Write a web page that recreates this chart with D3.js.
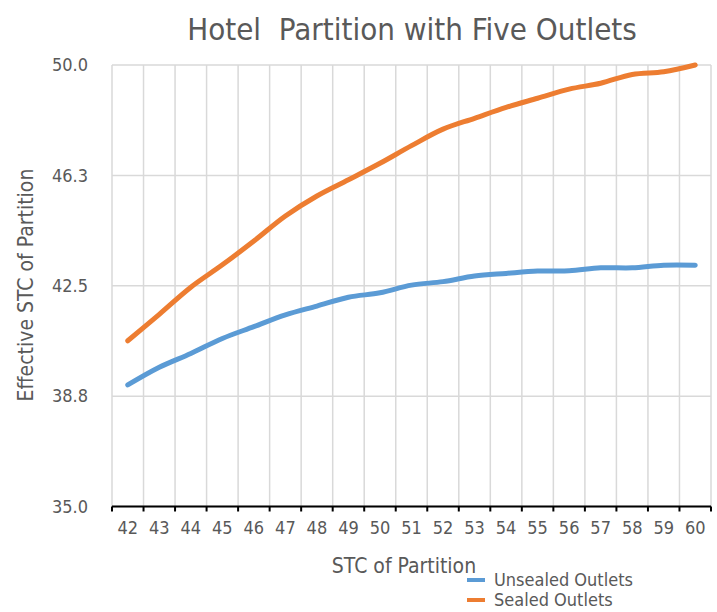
<!DOCTYPE html>
<html>
<head>
<meta charset="utf-8">
<script src="https://cdn.jsdelivr.net/npm/d3@7"></script>
<style>
  body { margin: 0; background: #fff; }
  text { font-family: "DejaVu Sans Condensed", "DejaVu Sans", sans-serif; fill: #595959; }
</style>
</head>
<body>
<svg id="chart" width="717" height="612"></svg>
<script>
// Chart data
const stcValues = ['42', '43', '44', '45', '46', '47', '48', '49', '50', '51', '52', '53', '54', '55', '56', '57', '58', '59', '60'];
const unsealed = [39.13, 39.73, 40.2, 40.71, 41.11, 41.51, 41.81, 42.11, 42.26, 42.52, 42.64, 42.83, 42.92, 43.0, 43.01, 43.11, 43.11, 43.2, 43.2];
const sealed = [40.63, 41.53, 42.45, 43.21, 44.02, 44.87, 45.55, 46.1, 46.66, 47.26, 47.82, 48.19, 48.56, 48.87, 49.18, 49.38, 49.68, 49.77, 50.0];
const yTicks = [35, 38.75, 42.5, 46.25, 50];
const seriesNames = ['Unsealed Outlets', 'Sealed Outlets'];
const seriesColors = ['#5B9BD5', '#ED7D31'];

const svg = d3.select('#chart');

// Draw area values
const plotLeft = 112;
const plotRight = 711;
const plotTop = 65;
const plotBottom = 506.5;

const x = d3.scaleBand().domain(stcValues).range([plotLeft, plotRight]);
const y = d3.scaleLinear().domain([35, 50]).range([plotBottom, plotTop]);

// Title
svg.append('text')
  .attr('x', 412)
  .attr('y', 40)
  .attr('text-anchor', 'middle')
  .style('font-size', '31px')
  .style('white-space', 'pre')
  .text('Hotel  Partition with Five Outlets');

// Horizontal grid
svg.append('g')
  .selectAll('line')
  .data(yTicks)
  .enter()
  .append('line')
  .attr('x1', plotLeft)
  .attr('x2', plotRight)
  .attr('y1', (d) => y(d))
  .attr('y2', (d) => y(d))
  .attr('stroke', '#d9d9d9')
  .attr('stroke-width', 1.5);

// Vertical grid at category boundaries
const edges = stcValues.map((d) => x(d)).concat([x(stcValues[stcValues.length - 1]) + x.bandwidth()]);
svg.append('g')
  .selectAll('line')
  .data(edges)
  .enter()
  .append('line')
  .attr('x1', (d) => d)
  .attr('x2', (d) => d)
  .attr('y1', plotTop)
  .attr('y2', plotBottom)
  .attr('stroke', '#d9d9d9')
  .attr('stroke-width', 1.5);

// Y axis labels
const yAxis = svg.append('g')
  .attr('transform', `translate(${plotLeft - 8},0)`)
  .call(d3.axisLeft(y).tickValues(yTicks).tickFormat(d3.format('.1f')).tickSize(0));
yAxis.select('.domain').remove();
yAxis.selectAll('text')
  .attr('x', -16)
  .style('font-size', '18px')
  .style('fill', '#595959')
  .style('font-family', '"DejaVu Sans Condensed", "DejaVu Sans", sans-serif');

// X axis line + ticks
svg.append('line')
  .attr('x1', plotLeft)
  .attr('x2', plotRight)
  .attr('y1', plotBottom)
  .attr('y2', plotBottom)
  .attr('stroke', '#000')
  .attr('stroke-width', 2);
svg.append('g')
  .selectAll('line')
  .data(edges)
  .enter()
  .append('line')
  .attr('x1', (d) => d)
  .attr('x2', (d) => d)
  .attr('y1', plotBottom)
  .attr('y2', plotBottom + 5)
  .attr('stroke', '#000')
  .attr('stroke-width', 2);

const xAxis = svg.append('g')
  .attr('transform', `translate(0,${plotBottom})`)
  .call(d3.axisBottom(x).tickSize(0).tickPadding(15));
xAxis.select('.domain').remove();
xAxis.selectAll('text')
  .style('font-size', '18px')
  .style('fill', '#595959')
  .style('font-family', '"DejaVu Sans Condensed", "DejaVu Sans", sans-serif');

// Axis titles
svg.append('text')
  .attr('x', 404)
  .attr('y', 573)
  .attr('text-anchor', 'middle')
  .style('font-size', '21px')
  .text('STC of Partition');
svg.append('text')
  .attr('transform', 'translate(33,285) rotate(-90)')
  .attr('text-anchor', 'middle')
  .style('font-size', '21px')
  .text('Effective STC of Partition');

// Lines
const line = d3.line()
  .x((d, i) => x(stcValues[i]) + x.bandwidth() / 2)
  .y((d) => y(d))
  .curve(d3.curveCatmullRom.alpha(0.5));
[unsealed, sealed].forEach((s, k) => {
  svg.append('path')
    .datum(s)
    .attr('d', line)
    .attr('fill', 'none')
    .attr('stroke', seriesColors[k])
    .attr('stroke-width', 5)
    .attr('stroke-linecap', 'round')
    .attr('stroke-linejoin', 'round');
});

// Legend
const legend = svg.append('g').attr('transform', 'translate(467,580)');
legend.selectAll('line')
  .data(seriesNames)
  .enter()
  .append('line')
  .attr('x1', 0)
  .attr('x2', 18)
  .attr('y1', (d, i) => i * 20)
  .attr('y2', (d, i) => i * 20)
  .attr('stroke', (d, i) => seriesColors[i])
  .attr('stroke-width', 4);
legend.selectAll('text')
  .data(seriesNames)
  .enter()
  .append('text')
  .attr('x', 27)
  .attr('y', (d, i) => i * 20 + 6)
  .style('font-size', '18px')
  .text((d) => d);
</script>
</body>
</html>
